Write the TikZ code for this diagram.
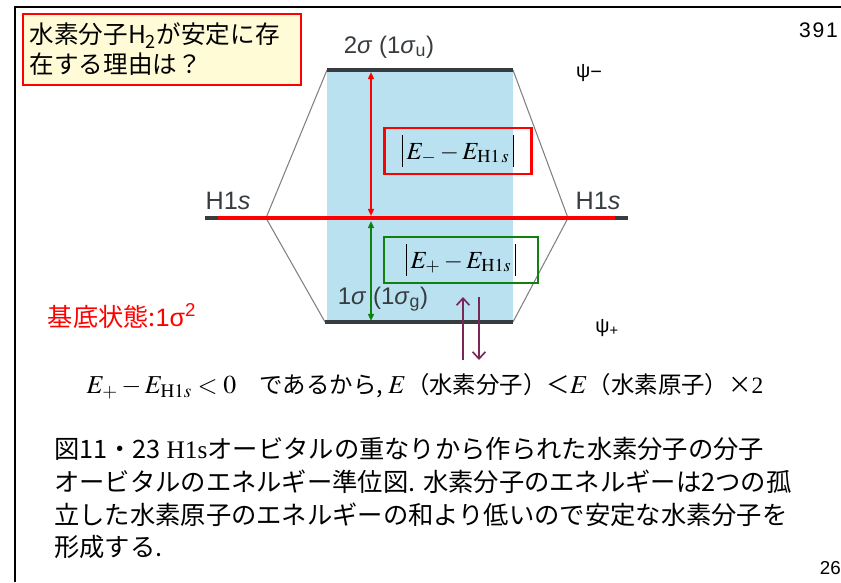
\documentclass[tikz,border=0pt]{standalone}
\usepackage{mathptmx}
\usepackage[no-math]{fontspec}
\setmainfont{Noto Sans CJK JP}
\newfontfamily\serifrm{Liberation Serif}
\newfontfamily\latinsans{Liberation Sans}
\usepackage{tikz}
\usetikzlibrary{arrows.meta, positioning}
\definecolor{paleyellow}{RGB}{255,251,214}
\definecolor{levelblue}{RGB}{185,225,240}
\definecolor{levelgray}{RGB}{55,60,64}
\definecolor{spinpurple}{RGB}{122,38,86}
\definecolor{boxgreen}{RGB}{16,128,16}
\newcommand{\sig}{\textit{σ}}
\newcommand{\absbar}{\rule[-0.32em]{0.7pt}{1.3em}}

\begin{document}
\begin{tikzpicture}[
        x=0.03cm, y=-0.03cm,
        frame/.style={line width=1.7pt, draw=black},
        level/.style={line width=2.6pt, draw=levelgray},
        corr/.style={line width=0.9pt, draw=gray},
        orb/.style={font=\latinsans\fontsize{20.5}{22}\selectfont, text=levelgray, inner sep=0pt},
        hlabel/.style={font=\latinsans\fontsize{21.5}{22}\selectfont, text=levelgray, inner sep=0pt},
        psi/.style={font=\latinsans\fontsize{17}{18}\selectfont, inner sep=0pt},
        titlebox/.style={rectangle, draw=red, line width=1.6pt, fill=paleyellow, align=left, text width=7.95cm, minimum height=2.13cm, inner xsep=0.2cm, font=\fontsize{21}{25.5}\selectfont},
        gapbox/.style={rectangle, line width=2.4pt, minimum height=1.38cm, inner sep=0pt, font=\fontsize{21}{26}\selectfont},
        arrow/.style={<->, >={Triangle[length=6pt,width=5pt]}, line width=1.6pt},
        spin/.style={-{Straight Barb[length=6pt,width=11pt]}, line width=1.4pt, draw=spinpurple}
    ]
    \useasboundingbox (0,0) rectangle (841,582);
    \draw[frame] (15,582) -- (15,7) -- (841,7);

    % level corners
    \coordinate (sl) at (205,218);
    \coordinate (al) at (266,218);
    \coordinate (ar) at (568,218);
    \coordinate (sr) at (628,218);
    \coordinate (ul) at (327,70);
    \coordinate (ur) at (513,70);
    \coordinate (gl) at (325,322);
    \coordinate (gr) at (513,322);

    \fill[levelblue] (ul) rectangle (gr);
    \draw[corr] (ul) -- (al) -- (gl);
    \draw[corr] (ur) -- (ar) -- (gr);
    \draw[level] (ul) -- (ur);
    \draw[level] (gl) -- (gr);
    \draw[level] (sl) -- (al);
    \draw[level] (ar) -- (sr);

    \coordinate (rl) at (218,218);
    \coordinate (rr) at (615,218);
    \draw[red, line width=2.6pt] (rl) -- (rr);

    % energy gaps
    \coordinate (redtop) at (371,72);
    \coordinate (redbot) at (371,216);
    \coordinate (greentop) at (371,221);
    \coordinate (greenbot) at (371,321);
    \draw[arrow, red] (redbot) -- (redtop);
    \draw[arrow, boxgreen] (greentop) -- (greenbot);

    \node[gapbox, draw=red, minimum width=4.41cm] (gapu) at (458,151) {\absbar\,$E_{-} - E_{\mathrm{H1}\,s}$\,\absbar};
    \node[gapbox, draw=boxgreen, minimum width=4.62cm] (gapg) at (461,260) {\absbar\,$E_{+} - E_{\mathrm{H1}s}$\,\absbar};

    % electrons
    \coordinate (upa) at (463,360);
    \coordinate (upb) at (463,297);
    \coordinate (dna) at (479,297);
    \coordinate (dnb) at (479,360);
    \draw[spin] (upa) -- (upb);
    \draw[spin] (dna) -- (dnb);

    \node[orb] (antilbl) at (389,47) {2\sig\ (1\sig\textsubscript{u})};
    \node[orb] (bondlbl) at (383,299) {1\sig\ (1\sig\textsubscript{g})};
    \node[hlabel] (h1sleft) at (228,201) {H1\textit{s}};
    \node[hlabel] (h1sright) at (598,201) {H1\textit{s}};
    \node[psi] (psiminus) at (589,73) {ψ\raisebox{-1pt}{−}};
    \node[psi] (psiplus) at (607,328) {ψ\textsubscript{+}};
    \node[text=red, font=\fontsize{21.5}{24}\selectfont, inner sep=0pt] (ground) at (122,316) {基底状態:{\latinsans 1σ\textsuperscript{2}}};

    \node[titlebox, anchor=north west] (title) at (22,13) {水素分子H\textsubscript{2}が安定に存\\在する理由は？};
    \node[font=\latinsans\fontsize{18}{20}\selectfont, anchor=east, inner sep=0pt] (slideno) at (838,30) {3\kern1.5pt9\kern1.5pt1};

    \node[font=\fontsize{20}{22}\selectfont, inner sep=0pt] (result) at (425,386) {{\fontsize{22}{24}\selectfont$E_{+} - E_{\mathrm{H1}s} < 0$}\quad であるから, {\fontsize{22}{24}\selectfont$E$}（水素分子）＜{\fontsize{22}{24}\selectfont$E$}（水素原子）×{\serifrm 2}};

    \node[anchor=north west, align=left, inner sep=0pt, font=\fontsize{21.6}{28}\selectfont] (caption) at (54,437) {図11・23\ {\serifrm H1s}オービタルの重なりから作られた水素分子の分子\\オービタルのエネルギー準位図. 水素分子のエネルギーは2つの孤\\立した水素原子のエネルギーの和より低いので安定な水素分子を\\形成する.};
    \node[font=\latinsans\fontsize{16}{18}\selectfont, anchor=east, inner sep=0pt] (pageno) at (841,568) {26};
\end{tikzpicture}
\end{document}
